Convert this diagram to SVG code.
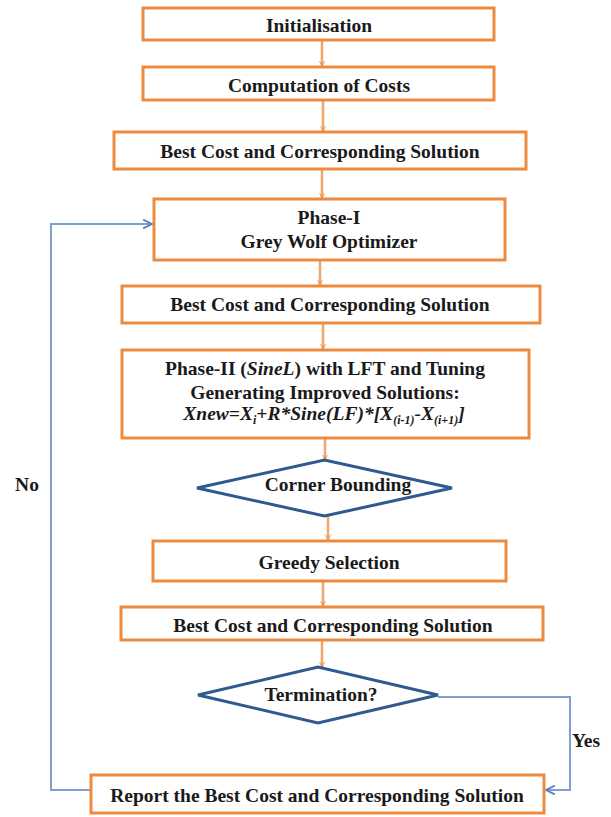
<svg xmlns="http://www.w3.org/2000/svg" width="611" height="817" viewBox="0 0 611 817">
<style>
.box{fill:#fff;stroke:#EE8A3E;stroke-width:3}
.dia{fill:#fff;stroke:#2F5A8F;stroke-width:3}
.t{font-family:"Liberation Serif","Times New Roman",serif;font-weight:bold;font-size:19.5px;fill:#1a1a1a;text-anchor:middle}
.oc{stroke:#F2A66A;stroke-width:2.5;fill:none}
.bc{stroke:#7F9FCF;stroke-width:2;fill:none}
</style>
<defs>
<marker id="ao" viewBox="0 0 10 10" refX="9" refY="5" markerWidth="6" markerHeight="6" orient="auto" markerUnits="userSpaceOnUse">
<path d="M1,1 L9,5 L1,9" fill="none" stroke="#E9883E" stroke-width="1.5"/>
</marker>
<marker id="ab" viewBox="0 0 10 10" refX="9" refY="5" markerWidth="11" markerHeight="11" orient="auto" markerUnits="userSpaceOnUse">
<path d="M1,1 L9,5 L1,9" fill="none" stroke="#5A7FB8" stroke-width="1.6"/>
</marker>
</defs>
<rect width="611" height="817" fill="#fff"/>
<g id="connectors">
<line class="oc" x1="322" y1="40" x2="322" y2="66" marker-end="url(#ao)"/>
<line class="oc" x1="323" y1="100" x2="323" y2="131" marker-end="url(#ao)"/>
<line class="oc" x1="322" y1="169" x2="322" y2="198" marker-end="url(#ao)"/>
<line class="oc" x1="320" y1="260" x2="320" y2="285" marker-end="url(#ao)"/>
<line class="oc" x1="323" y1="323" x2="323" y2="349" marker-end="url(#ao)"/>
<line class="oc" x1="325" y1="438" x2="325" y2="460" marker-end="url(#ao)"/>
<line class="oc" x1="328" y1="516" x2="328" y2="540" marker-end="url(#ao)"/>
<line class="oc" x1="323" y1="581" x2="323" y2="606" marker-end="url(#ao)"/>
<line class="oc" x1="322" y1="640" x2="322" y2="667" marker-end="url(#ao)"/>
<polyline class="bc" points="91,790 51,790 51,224 152,224" marker-end="url(#ab)"/>
<polyline class="bc" points="438,697 570,697 570,790 546,790" marker-end="url(#ab)"/>
<text class="t" x="27" y="491">No</text>
<text class="t" x="586" y="747">Yes</text>
</g>
<g id="init">
<rect class="box" x="143" y="8" width="351" height="32"/>
<text class="t" x="319" y="32">Initialisation</text>
</g>
<g id="costs">
<rect class="box" x="143" y="67" width="351" height="33"/>
<text class="t" x="319" y="92">Computation of Costs</text>
</g>
<g id="best1">
<rect class="box" x="114" y="132" width="412" height="37"/>
<text class="t" x="320" y="158">Best Cost and Corresponding Solution</text>
</g>
<g id="phase1">
<rect class="box" x="154" y="199" width="351" height="61"/>
<text class="t" x="329" y="224">Phase-I</text>
<text class="t" x="329" y="248">Grey Wolf Optimizer</text>
</g>
<g id="best2">
<rect class="box" x="122" y="286" width="418" height="37"/>
<text class="t" x="330" y="311">Best Cost and Corresponding Solution</text>
</g>
<g id="phase2">
<rect class="box" x="122" y="350" width="407" height="88"/>
<text class="t" x="325" y="375">Phase-II (<tspan font-style="italic">SineL</tspan>) with LFT and Tuning</text>
<text class="t" x="325" y="399">Generating Improved Solutions:</text>
<text class="t" x="324" y="420" font-style="italic">Xnew=X<tspan font-size="12" dy="4">i</tspan><tspan dy="-4">+R*Sine(LF)*[X</tspan><tspan font-size="12" dy="4">(i-1)</tspan><tspan dy="-4">-X</tspan><tspan font-size="12" dy="4">(i+1)</tspan><tspan dy="-4">]</tspan></text>
</g>
<g id="corner">
<polygon class="dia" points="197,488 324.5,460 452,488 324.5,516"/>
<text class="t" x="338" y="491">Corner Bounding</text>
</g>
<g id="greedy">
<rect class="box" x="153" y="541" width="353" height="40"/>
<text class="t" x="329" y="569">Greedy Selection</text>
</g>
<g id="best3">
<rect class="box" x="121" y="607" width="422" height="33"/>
<text class="t" x="333" y="632">Best Cost and Corresponding Solution</text>
</g>
<g id="termination">
<polygon class="dia" points="198,695 318,667 438,695 318,723"/>
<text class="t" x="321" y="701">Termination?</text>
</g>
<g id="report">
<rect class="box" x="91" y="775" width="453" height="38"/>
<text class="t" x="317" y="802">Report the Best Cost and Corresponding Solution</text>
</g>
</svg>
